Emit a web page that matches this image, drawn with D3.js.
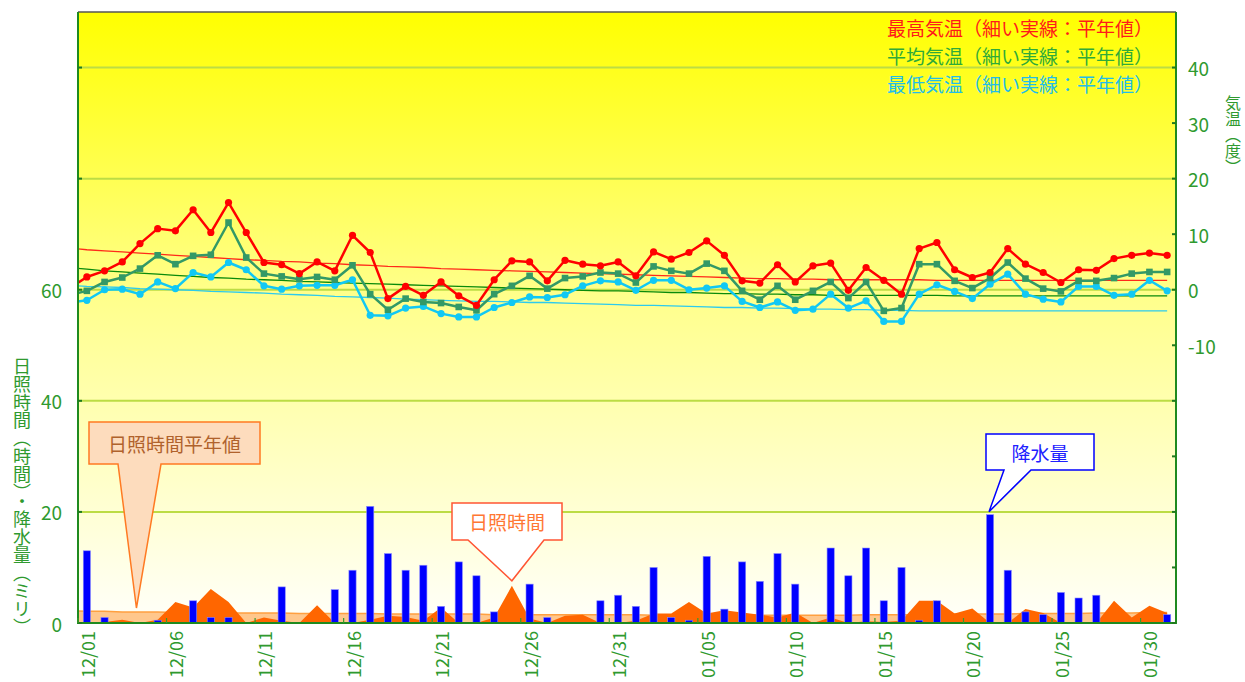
<!DOCTYPE html>
<html>
<head>
<meta charset="utf-8">
<script src="https://d3js.org/d3.v7.min.js"></script>
<style>
  body{ margin:0; background:#fff; }
  svg{ display:block; font-family:"Noto Sans CJK JP","Noto Sans",sans-serif; }
</style>
</head>
<body>
<script>
    // first entry (11/30) only feeds the line/area stub at the left edge; it is clipped away
    var dates = ["11/30",
        "12/01","12/02","12/03","12/04","12/05","12/06","12/07","12/08","12/09","12/10",
        "12/11","12/12","12/13","12/14","12/15","12/16","12/17","12/18","12/19","12/20",
        "12/21","12/22","12/23","12/24","12/25","12/26","12/27","12/28","12/29","12/30","12/31",
        "01/01","01/02","01/03","01/04","01/05","01/06","01/07","01/08","01/09","01/10",
        "01/11","01/12","01/13","01/14","01/15","01/16","01/17","01/18","01/19","01/20",
        "01/21","01/22","01/23","01/24","01/25","01/26","01/27","01/28","01/29","01/30","01/31"];
    var tickLabels = ["12/01","12/06","12/11","12/16","12/21","12/26","12/31",
        "01/05","01/10","01/15","01/20","01/25","01/30"];

    // temperatures (deg C)
    var tMax = [0.2,
        2.3,3.4,5.0,8.3,11.0,10.6,14.4,10.3,15.7,10.3,
        4.9,4.5,2.9,5.0,3.4,9.8,6.7,-1.6,0.6,-1.0,
        1.4,-1.1,-2.8,1.8,5.2,5.0,1.6,5.3,4.6,4.3,5.0,
        2.5,6.8,5.5,6.7,8.8,6.2,1.6,1.2,4.5,1.4,
        4.3,4.8,-0.1,4.0,1.7,-0.8,7.4,8.5,3.6,2.2,
        3.1,7.4,4.6,3.1,1.3,3.6,3.5,5.6,6.2,6.6,6.2];
    var tMean = [-1.0,
        -0.2,1.4,2.2,3.8,6.2,4.6,6.1,6.3,12.1,5.8,
        2.9,2.4,1.9,2.3,1.8,4.4,-0.8,-3.6,-1.6,-2.2,
        -2.4,-3.1,-3.7,-0.8,0.7,2.5,0.2,2.1,2.4,3.1,2.9,
        1.3,4.2,3.4,2.9,4.7,3.4,-0.2,-1.8,0.7,-1.8,
        -0.2,1.4,-1.5,1.4,-3.8,-3.3,4.6,4.6,1.6,0.3,
        2.1,4.9,2.0,0.2,-0.3,1.6,1.6,2.1,2.9,3.2,3.2];
    var tMin = [-2.3,
        -1.9,0.0,0.1,-0.8,1.4,0.2,3.1,2.3,4.9,3.6,
        0.7,0.1,0.7,0.8,0.8,1.8,-4.6,-4.7,-3.3,-3.0,
        -4.3,-4.9,-4.9,-3.2,-2.3,-1.3,-1.4,-0.9,0.7,1.6,1.4,
        -0.1,1.7,1.7,0.0,0.3,0.7,-2.1,-3.2,-2.2,-3.7,
        -3.5,-0.8,-3.3,-2.0,-5.7,-5.7,-0.8,0.9,-0.3,-1.6,
        1.0,2.8,-0.8,-1.7,-2.2,0.6,0.6,-1.0,-0.8,1.7,-0.2];

    // normals (thin lines)
    var nMax = [7.5,
        7.2,7.0,6.8,6.6,6.4,6.2,6.0,5.8,5.6,5.4,
        5.3,5.1,5.0,4.8,4.7,4.5,4.4,4.2,4.1,4.0,
        3.8,3.7,3.6,3.5,3.4,3.3,3.2,3.1,3.0,2.9,2.8,
        2.7,2.6,2.5,2.4,2.3,2.2,2.1,2.0,2.0,1.9,
        1.9,1.8,1.8,1.8,1.8,1.8,1.8,1.7,1.7,1.7,
        1.7,1.7,1.7,1.7,1.7,1.7,1.7,1.7,1.7,1.7,1.7];
    var nMean = [4.0,
        3.7,3.4,3.2,3.0,2.8,2.6,2.4,2.2,2.1,1.9,
        1.8,1.7,1.5,1.4,1.3,1.2,1.1,1.0,0.9,0.8,
        0.7,0.6,0.5,0.4,0.3,0.2,0.1,0.0,-0.1,-0.2,-0.2,
        -0.3,-0.4,-0.5,-0.5,-0.6,-0.7,-0.7,-0.8,-0.8,-0.9,
        -0.9,-1.0,-1.0,-1.0,-1.0,-1.0,-1.0,-1.0,-1.1,-1.1,
        -1.1,-1.1,-1.1,-1.1,-1.1,-1.1,-1.1,-1.1,-1.1,-1.1,-1.1];
    var nMin = [0.8,
        0.6,0.5,0.4,0.2,0.1,0.0,-0.1,-0.3,-0.4,-0.5,
        -0.6,-0.8,-0.9,-1.0,-1.2,-1.3,-1.4,-1.5,-1.7,-1.8,
        -1.9,-2.0,-2.1,-2.1,-2.2,-2.3,-2.3,-2.4,-2.5,-2.6,-2.7,
        -2.8,-2.8,-2.9,-3.0,-3.1,-3.2,-3.2,-3.3,-3.3,-3.4,
        -3.5,-3.5,-3.6,-3.6,-3.7,-3.7,-3.8,-3.8,-3.8,-3.8,
        -3.8,-3.8,-3.8,-3.8,-3.8,-3.8,-3.8,-3.8,-3.8,-3.8,-3.8];

    // sunshine (hours) and precipitation (mm)
    var sun = [0,
        0,0.2,0.6,0,0.6,3.8,2.8,6.1,3.8,0,
        1.0,0.4,0,3.2,0,0,0.6,1.3,1.1,0.4,
        2.8,0,0,1.0,6.7,0.8,0,1.3,1.5,0,0,
        0.4,1.7,1.7,3.8,1.7,2.3,1.9,1.5,1.0,1.9,
        0,1.0,0,0.3,0.2,0.4,4.0,4.0,1.7,2.6,
        0,0,2.5,1.8,0,0.1,0,4.0,1.0,3.1,1.8];
    var sunNormal = [2.2,
        2.1,2.1,2.0,2.0,2.0,1.9,1.9,1.9,1.8,1.8,
        1.8,1.8,1.7,1.7,1.7,1.7,1.7,1.6,1.6,1.6,
        1.6,1.6,1.6,1.5,1.5,1.5,1.5,1.5,1.5,1.5,1.5,
        1.5,1.4,1.4,1.4,1.4,1.4,1.4,1.4,1.4,1.4,
        1.4,1.4,1.4,1.5,1.5,1.5,1.5,1.5,1.6,1.6,
        1.6,1.6,1.7,1.7,1.7,1.7,1.8,1.8,1.8,1.9,1.9];
    var precip = [0,
        13.0,1.0,0,0,0.5,0,4.0,1.0,1.0,0,
        0,6.5,0,0,6.0,9.5,21.0,12.5,9.5,10.4,
        3.0,11.0,8.5,2.0,0,7.0,1.0,0,0,4.0,5.0,
        3.0,10.0,1.0,0.5,12.0,2.5,11.0,7.5,12.5,7.0,
        0,13.5,8.5,13.5,4.0,10.0,0.5,4.0,0,0,
        19.5,9.5,2.0,1.5,5.5,4.5,5.0,0,0,0,1.5];

    var leftTicks = [0, 20, 40, 60, 80, 100];
    var leftLabels = [0, 20, 40, 60];
    var rightTicks = [-60, -50, -40, -30, -20, -10, 0, 10, 20, 30, 40];
    var rightLabels = [-10, 0, 10, 20, 30, 40];
    var legendItems = [
        {text: "最高気温（細い実線：平年値）", color: "#ff1a1a"},
        {text: "平均気温（細い実線：平年値）", color: "#2faa3a"},
        {text: "最低気温（細い実線：平年値）", color: "#22bdea"}
    ];

    var width = 1245, height = 682;
    var L = 78, R = 1176, T = 12, B = 623;

    var svg = d3.select("body").append("svg")
        .attr("width", width)
        .attr("height", height);

    var x = d3.scaleLinear().domain([0.5, dates.length - 0.5]).range([L, R]);
    var step = x(1) - x(0);
    var yL = d3.scaleLinear().domain([0, 110]).range([B, T]);
    var yR = d3.scaleLinear().domain([-60, 50]).range([B, T]);

    var defs = svg.append("defs");
    var grad = defs.append("linearGradient")
        .attr("id", "bg").attr("x1", 0).attr("y1", 0).attr("x2", 0).attr("y2", 1);
    grad.append("stop").attr("offset", "0%").attr("stop-color", "#ffff00");
    grad.append("stop").attr("offset", "45%").attr("stop-color", "#ffff88");
    grad.append("stop").attr("offset", "100%").attr("stop-color", "#fffffa");
    defs.append("clipPath").attr("id", "plot")
        .append("rect").attr("x", L).attr("y", T).attr("width", R - L).attr("height", B - T);

    // background
    svg.append("rect")
        .attr("x", L).attr("y", T).attr("width", R - L).attr("height", B - T)
        .attr("fill", "url(#bg)");

    // grid
    svg.append("g").selectAll("line")
        .data(leftTicks.filter(function(d){ return d > 0; }))
        .enter().append("line")
        .attr("x1", L).attr("x2", R)
        .attr("y1", function(d){ return yL(d); })
        .attr("y2", function(d){ return yL(d); })
        .attr("stroke", "#bcdc44")
        .attr("stroke-width", 2);

    var plot = svg.append("g").attr("clip-path", "url(#plot)");
    var idx = d3.range(dates.length);

    // sunshine normal band
    plot.append("path")
        .datum(idx)
        .attr("d", d3.area().x(function(i){ return x(i); }).y0(B)
            .y1(function(i){ return yL(sunNormal[i]); }))
        .attr("fill", "#ffc78c");
    plot.append("path")
        .datum(idx)
        .attr("d", d3.line().x(function(i){ return x(i); })
            .y(function(i){ return yL(sunNormal[i]); }))
        .attr("fill", "none")
        .attr("stroke", "#ffa040")
        .attr("stroke-width", 1.5);

    // sunshine
    plot.append("path")
        .datum(idx)
        .attr("d", d3.area().x(function(i){ return x(i); }).y0(B)
            .y1(function(i){ return yL(sun[i]); }))
        .attr("fill", "#ff6600");

    // precipitation bars
    var barW = 7.2;
    plot.append("g").selectAll("rect")
        .data(idx.filter(function(i){ return precip[i] > 0; }))
        .enter().append("rect")
        .attr("x", function(i){ return x(i) - barW / 2; })
        .attr("y", function(i){ return yL(precip[i]); })
        .attr("width", barW)
        .attr("height", function(i){ return B - yL(precip[i]); })
        .attr("fill", "#0000ff")
        .attr("stroke", "#8a8aff")
        .attr("stroke-width", 0.6);

    // normal temperature lines
    var tline = function(arr){
        return d3.line().x(function(i){ return x(i); }).y(function(i){ return yR(arr[i]); })(idx);
    };
    var normals = [
        {data: nMax, color: "#ff2a1a"},
        {data: nMean, color: "#0a8a0a"},
        {data: nMin, color: "#2ccbee"}
    ];
    normals.forEach(function(n){
        plot.append("path")
            .attr("d", tline(n.data))
            .attr("fill", "none")
            .attr("stroke", n.color)
            .attr("stroke-width", 1.3);
    });

    // daily temperatures
    var series = [
        {data: tMin, color: "#11c8f4", marker: "circle"},
        {data: tMean, color: "#339966", marker: "square"},
        {data: tMax, color: "#ff0000", marker: "circle"}
    ];
    series.forEach(function(s){
        plot.append("path")
            .attr("d", tline(s.data))
            .attr("fill", "none")
            .attr("stroke", s.color)
            .attr("stroke-width", 2.5)
            .attr("stroke-linejoin", "round");
        var g = plot.append("g");
        if (s.marker === "circle") {
            g.selectAll("circle").data(idx).enter().append("circle")
                .attr("cx", function(i){ return x(i); })
                .attr("cy", function(i){ return yR(s.data[i]); })
                .attr("r", 3.6)
                .attr("fill", s.color);
        } else {
            g.selectAll("rect").data(idx).enter().append("rect")
                .attr("x", function(i){ return x(i) - 3.3; })
                .attr("y", function(i){ return yR(s.data[i]) - 3.3; })
                .attr("width", 6.6)
                .attr("height", 6.6)
                .attr("fill", s.color);
        }
    });

    // frame
    svg.append("line").attr("x1", L).attr("x2", R).attr("y1", T).attr("y2", T)
        .attr("stroke", "#555").attr("stroke-width", 1.5);
    svg.append("line").attr("x1", L).attr("x2", L).attr("y1", T).attr("y2", B + 1)
        .attr("stroke", "#1f8a1f").attr("stroke-width", 2);
    svg.append("line").attr("x1", R).attr("x2", R).attr("y1", T).attr("y2", B + 1)
        .attr("stroke", "#1f8a1f").attr("stroke-width", 2);
    svg.append("line").attr("x1", L).attr("x2", R).attr("y1", B).attr("y2", B)
        .attr("stroke", "#1f8a1f").attr("stroke-width", 2);

    var axisColor = "#2f9a2f";

    // left axis
    svg.append("g").selectAll("line").data(leftTicks).enter().append("line")
        .attr("x1", L).attr("x2", L + 4)
        .attr("y1", function(d){ return yL(d); }).attr("y2", function(d){ return yL(d); })
        .attr("stroke", "#1f7a1f").attr("stroke-width", 2);
    svg.append("g").selectAll("text").data(leftLabels).enter().append("text")
        .attr("x", 62)
        .attr("y", function(d){ return yL(d); })
        .attr("text-anchor", "end")
        .attr("dominant-baseline", "central")
        .attr("fill", axisColor)
        .style("font-size", "19px")
        .text(function(d){ return d; });
    svg.append("text")
        .attr("x", 22).attr("y", 357)
        .style("writing-mode", "vertical-rl")
        .style("font-size", "18px")
        .attr("fill", axisColor)
        .text("日照時間（時間）・降水量（ミリ）");

    // right axis
    svg.append("g").selectAll("line").data(rightTicks).enter().append("line")
        .attr("x1", R - 4).attr("x2", R)
        .attr("y1", function(d){ return yR(d); }).attr("y2", function(d){ return yR(d); })
        .attr("stroke", "#1f7a1f").attr("stroke-width", 2);
    svg.append("g").selectAll("text").data(rightLabels).enter().append("text")
        .attr("x", 1188)
        .attr("y", function(d){ return yR(d); })
        .attr("dominant-baseline", "central")
        .attr("fill", axisColor)
        .style("font-size", "19px")
        .text(function(d){ return d; });
    svg.append("text")
        .attr("x", 1233).attr("y", 95)
        .style("writing-mode", "vertical-rl")
        .style("font-size", "16px")
        .attr("fill", axisColor)
        .text("気温（度）");

    // x axis
    var tickIdx = tickLabels.map(function(t){ return dates.indexOf(t); });
    svg.append("g").selectAll("line").data(tickIdx).enter().append("line")
        .attr("x1", function(i){ return x(i) - step / 2; })
        .attr("x2", function(i){ return x(i) - step / 2; })
        .attr("y1", B - 5).attr("y2", B)
        .attr("stroke", "#3a9a2a").attr("stroke-width", 1.2);
    svg.append("g").selectAll("text").data(tickIdx).enter().append("text")
        .attr("transform", function(i){ return "translate(" + x(i) + "," + (B + 8) + ") rotate(-90)"; })
        .attr("text-anchor", "end")
        .attr("dominant-baseline", "central")
        .attr("fill", axisColor)
        .style("font-size", "18px")
        .text(function(i){ return dates[i]; });

    // legend
    svg.append("g").selectAll("text").data(legendItems).enter().append("text")
        .attr("x", 1153)
        .attr("y", function(d, k){ return 27 + k * 28; })
        .attr("text-anchor", "end")
        .attr("dominant-baseline", "central")
        .attr("fill", function(d){ return d.color; })
        .style("font-size", "19px")
        .text(function(d){ return d.text; });

    // callouts
    var callout = function(c){
        var d = "M" + c.x0 + "," + c.y0 + "H" + c.x1 + "V" + c.y1 +
            "H" + c.p1 + "L" + c.tx + "," + c.ty + "L" + c.p0 + "," + c.y1 +
            "H" + c.x0 + "Z";
        svg.append("path").attr("d", d)
            .attr("fill", c.fill).attr("stroke", c.stroke).attr("stroke-width", 1.5);
        svg.append("text")
            .attr("x", (c.x0 + c.x1) / 2).attr("y", (c.y0 + c.y1) / 2)
            .attr("text-anchor", "middle")
            .attr("dominant-baseline", "central")
            .attr("fill", c.color)
            .style("font-size", "19px")
            .text(c.text);
    };
    callout({text: "日照時間平年値", x0: 89, y0: 422, x1: 260, y1: 464, p0: 118, p1: 161,
        tx: x(3.8), ty: yL(2.7), fill: "#fddcbd", stroke: "#ff7a22", color: "#b0622c"});
    callout({text: "日照時間", x0: 452, y0: 503, x1: 562, y1: 540, p0: 468, p1: 544,
        tx: x(25), ty: yL(sun[25]) - 5, fill: "#ffffff", stroke: "#ff5533", color: "#ff7733"});
    callout({text: "降水量", x0: 986, y0: 434, x1: 1094, y1: 470, p0: 1004, p1: 1031,
        tx: x(52) - 1, ty: yL(precip[52]) - 3, fill: "#ffffff", stroke: "#0000ff", color: "#2020ff"});
</script>
</body>
</html>
